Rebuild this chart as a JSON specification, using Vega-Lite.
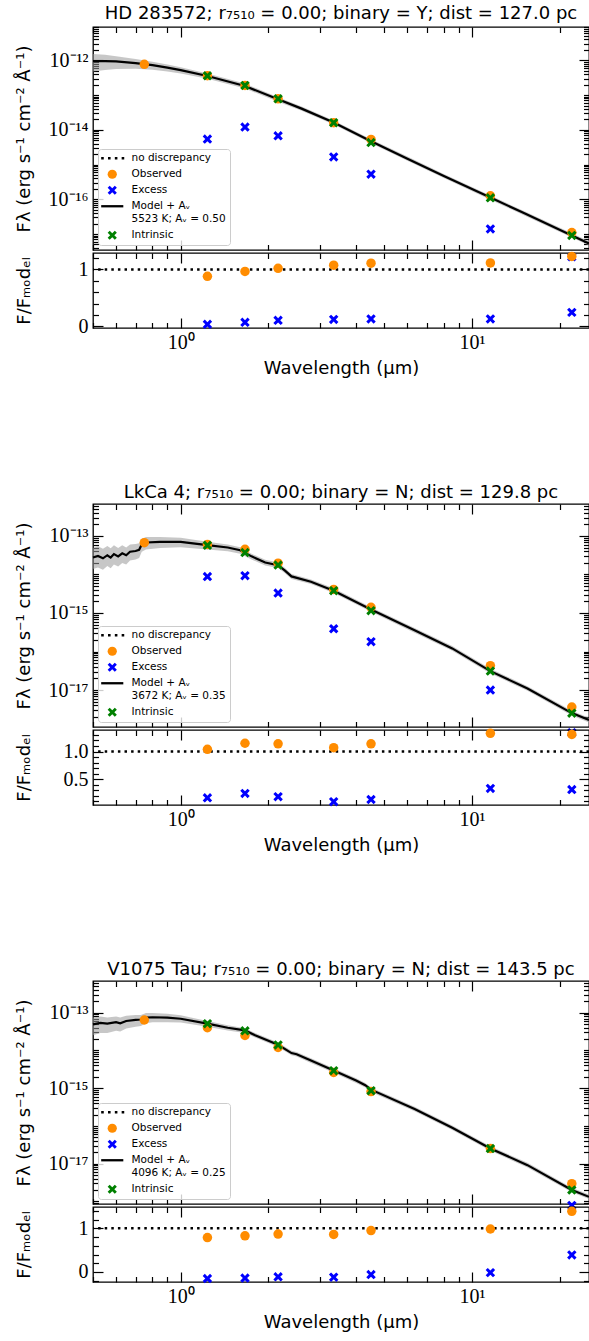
{
"$schema": "https://vega.github.io/schema/vega-lite/v6.json",
"padding": {"left": 14, "top": 4, "right": 0, "bottom": 0},
"config": {
 "view": {"stroke": "black", "strokeWidth": 1.3},
 "font": "DejaVu Sans",
 "axis": {"grid": false, "domain": false, "tickColor": "black", "tickWidth": 1.2, "labelColor": "black", "labelFont": "Liberation Serif", "labelFontSize": 20, "labelOverlap": false, "labelFlush": false, "labelBound": false, "titleColor": "black", "titleFont": "DejaVu Sans", "titleFontSize": 18, "titleFontWeight": "normal"},
 "title": {"font": "DejaVu Sans", "fontSize": 18, "fontWeight": "normal", "color": "black", "offset": -6, "anchor": "middle"},
 "legend": {"orient": "bottom-left", "offset": 5, "padding": 4, "strokeColor": "#cccccc", "fillColor": "rgba(255,255,255,0.8)", "cornerRadius": 3, "labelFont": "DejaVu Sans", "labelFontSize": 10.5, "labelColor": "black", "symbolSize": 85, "symbolOffset": 5, "labelOffset": 14, "rowPadding": 5, "symbolStrokeWidth": 0, "labelLimit": 300}
},
"datasets": {
 "phot": [
  {"star":"HD 283572","wl":0.75,"type":"Observed","flux":7.7e-13,"ratio":null},
  {"star":"HD 283572","wl":1.235,"type":"Observed","flux":3.6e-13,"ratio":0.88},
  {"star":"HD 283572","wl":1.662,"type":"Observed","flux":1.9e-13,"ratio":0.965},
  {"star":"HD 283572","wl":2.159,"type":"Observed","flux":7.8e-14,"ratio":1.02},
  {"star":"HD 283572","wl":3.35,"type":"Observed","flux":1.6e-14,"ratio":1.075},
  {"star":"HD 283572","wl":4.5,"type":"Observed","flux":5.3e-15,"ratio":1.11},
  {"star":"HD 283572","wl":11.56,"type":"Observed","flux":1.26e-16,"ratio":1.115},
  {"star":"HD 283572","wl":22.0,"type":"Observed","flux":1.1e-17,"ratio":1.23},
  {"star":"HD 283572","wl":1.235,"type":"Excess","flux":5.4e-15,"ratio":0.035},
  {"star":"HD 283572","wl":1.662,"type":"Excess","flux":1.2e-14,"ratio":0.07},
  {"star":"HD 283572","wl":2.159,"type":"Excess","flux":6.7e-15,"ratio":0.105},
  {"star":"HD 283572","wl":3.35,"type":"Excess","flux":1.66e-15,"ratio":0.12},
  {"star":"HD 283572","wl":4.5,"type":"Excess","flux":5.3e-16,"ratio":0.13},
  {"star":"HD 283572","wl":11.56,"type":"Excess","flux":1.4e-17,"ratio":0.13},
  {"star":"HD 283572","wl":22.0,"type":"Excess","flux":2.2e-18,"ratio":0.245},
  {"star":"HD 283572","wl":1.235,"type":"Intrinsic","flux":3.6e-13,"ratio":null},
  {"star":"HD 283572","wl":1.662,"type":"Intrinsic","flux":1.9e-13,"ratio":null},
  {"star":"HD 283572","wl":2.159,"type":"Intrinsic","flux":7.8e-14,"ratio":null},
  {"star":"HD 283572","wl":3.35,"type":"Intrinsic","flux":1.6e-14,"ratio":null},
  {"star":"HD 283572","wl":4.5,"type":"Intrinsic","flux":4.3e-15,"ratio":null},
  {"star":"HD 283572","wl":11.56,"type":"Intrinsic","flux":1.1e-16,"ratio":null},
  {"star":"HD 283572","wl":22.0,"type":"Intrinsic","flux":9.1e-18,"ratio":null},
  {"star":"LkCa 4","wl":0.75,"type":"Observed","flux":6.7e-14,"ratio":null},
  {"star":"LkCa 4","wl":1.235,"type":"Observed","flux":6.0e-14,"ratio":1.04},
  {"star":"LkCa 4","wl":1.662,"type":"Observed","flux":4.5e-14,"ratio":1.15},
  {"star":"LkCa 4","wl":2.159,"type":"Observed","flux":1.96e-14,"ratio":1.14},
  {"star":"LkCa 4","wl":3.35,"type":"Observed","flux":4.1e-15,"ratio":1.07},
  {"star":"LkCa 4","wl":4.5,"type":"Observed","flux":1.4e-15,"ratio":1.14},
  {"star":"LkCa 4","wl":11.56,"type":"Observed","flux":4.3e-17,"ratio":1.33},
  {"star":"LkCa 4","wl":22.0,"type":"Observed","flux":3.6e-18,"ratio":1.31},
  {"star":"LkCa 4","wl":1.235,"type":"Excess","flux":8.8e-15,"ratio":0.16},
  {"star":"LkCa 4","wl":1.662,"type":"Excess","flux":9.3e-15,"ratio":0.24},
  {"star":"LkCa 4","wl":2.159,"type":"Excess","flux":3.3e-15,"ratio":0.18},
  {"star":"LkCa 4","wl":3.35,"type":"Excess","flux":3.9e-16,"ratio":0.09},
  {"star":"LkCa 4","wl":4.5,"type":"Excess","flux":1.8e-16,"ratio":0.13},
  {"star":"LkCa 4","wl":11.56,"type":"Excess","flux":1.0e-17,"ratio":0.33},
  {"star":"LkCa 4","wl":22.0,"type":"Excess","flux":7.8e-19,"ratio":0.31},
  {"star":"LkCa 4","wl":1.235,"type":"Intrinsic","flux":5.7e-14,"ratio":null},
  {"star":"LkCa 4","wl":1.662,"type":"Intrinsic","flux":3.7e-14,"ratio":null},
  {"star":"LkCa 4","wl":2.159,"type":"Intrinsic","flux":1.75e-14,"ratio":null},
  {"star":"LkCa 4","wl":3.35,"type":"Intrinsic","flux":3.8e-15,"ratio":null},
  {"star":"LkCa 4","wl":4.5,"type":"Intrinsic","flux":1.15e-15,"ratio":null},
  {"star":"LkCa 4","wl":11.56,"type":"Intrinsic","flux":3.1e-17,"ratio":null},
  {"star":"LkCa 4","wl":22.0,"type":"Intrinsic","flux":2.5e-18,"ratio":null},
  {"star":"V1075 Tau","wl":0.75,"type":"Observed","flux":6.4e-14,"ratio":null},
  {"star":"V1075 Tau","wl":1.235,"type":"Observed","flux":4.0e-14,"ratio":0.79},
  {"star":"V1075 Tau","wl":1.662,"type":"Observed","flux":2.5e-14,"ratio":0.83},
  {"star":"V1075 Tau","wl":2.159,"type":"Observed","flux":1.2e-14,"ratio":0.87},
  {"star":"V1075 Tau","wl":3.35,"type":"Observed","flux":2.6e-15,"ratio":0.86},
  {"star":"V1075 Tau","wl":4.5,"type":"Observed","flux":8.1e-16,"ratio":0.95},
  {"star":"V1075 Tau","wl":11.56,"type":"Observed","flux":2.5e-17,"ratio":0.985},
  {"star":"V1075 Tau","wl":22.0,"type":"Observed","flux":2.95e-18,"ratio":1.39},
  {"star":"V1075 Tau","wl":1.235,"type":"Excess","flux":null,"ratio":-0.15},
  {"star":"V1075 Tau","wl":1.662,"type":"Excess","flux":null,"ratio":-0.14},
  {"star":"V1075 Tau","wl":2.159,"type":"Excess","flux":null,"ratio":-0.11},
  {"star":"V1075 Tau","wl":3.35,"type":"Excess","flux":null,"ratio":-0.12},
  {"star":"V1075 Tau","wl":4.5,"type":"Excess","flux":null,"ratio":-0.06},
  {"star":"V1075 Tau","wl":11.56,"type":"Excess","flux":null,"ratio":-0.015},
  {"star":"V1075 Tau","wl":22.0,"type":"Excess","flux":7.8e-19,"ratio":0.39},
  {"star":"V1075 Tau","wl":1.235,"type":"Intrinsic","flux":5.1e-14,"ratio":null},
  {"star":"V1075 Tau","wl":1.662,"type":"Intrinsic","flux":3.3e-14,"ratio":null},
  {"star":"V1075 Tau","wl":2.159,"type":"Intrinsic","flux":1.4e-14,"ratio":null},
  {"star":"V1075 Tau","wl":3.35,"type":"Intrinsic","flux":2.9e-15,"ratio":null},
  {"star":"V1075 Tau","wl":4.5,"type":"Intrinsic","flux":8.6e-16,"ratio":null},
  {"star":"V1075 Tau","wl":11.56,"type":"Intrinsic","flux":2.5e-17,"ratio":null},
  {"star":"V1075 Tau","wl":22.0,"type":"Intrinsic","flux":2.0e-18,"ratio":null}
 ],
 "model": [
  {"star":"HD 283572","wl":0.5,"f":9.55e-13,"lo":4.786e-13,"hi":1.514e-12},
  {"star":"HD 283572","wl":0.55,"f":9.55e-13,"lo":5.248e-13,"hi":1.445e-12},
  {"star":"HD 283572","wl":0.6,"f":9.333e-13,"lo":5.623e-13,"hi":1.318e-12},
  {"star":"HD 283572","wl":0.7,"f":8.318e-13,"lo":5.754e-13,"hi":1.096e-12},
  {"star":"HD 283572","wl":0.8,"f":7.244e-13,"lo":5.37e-13,"hi":9.12e-13},
  {"star":"HD 283572","wl":0.9,"f":6.166e-13,"lo":4.786e-13,"hi":7.586e-13},
  {"star":"HD 283572","wl":1.0,"f":5.248e-13,"lo":4.169e-13,"hi":6.31e-13},
  {"star":"HD 283572","wl":1.235,"f":3.548e-13,"lo":2.951e-13,"hi":4.169e-13},
  {"star":"HD 283572","wl":1.662,"f":1.82e-13,"lo":1.549e-13,"hi":2.138e-13},
  {"star":"HD 283572","wl":2.159,"f":7.586e-14,"lo":6.457e-14,"hi":8.71e-14},
  {"star":"HD 283572","wl":2.6,"f":4.074e-14,"lo":3.548e-14,"hi":4.677e-14},
  {"star":"HD 283572","wl":3.35,"f":1.622e-14,"lo":1.413e-14,"hi":1.862e-14},
  {"star":"HD 283572","wl":4.5,"f":4.677e-15,"lo":4.074e-15,"hi":5.37e-15},
  {"star":"HD 283572","wl":6.0,"f":1.479e-15,"lo":1.288e-15,"hi":1.698e-15},
  {"star":"HD 283572","wl":8.0,"f":4.677e-16,"lo":4.074e-16,"hi":5.37e-16},
  {"star":"HD 283572","wl":11.56,"f":1.122e-16,"lo":9.772e-17,"hi":1.288e-16},
  {"star":"HD 283572","wl":15.0,"f":4.074e-17,"lo":3.548e-17,"hi":4.677e-17},
  {"star":"HD 283572","wl":22.0,"f":9.12e-18,"lo":7.943e-18,"hi":1.047e-17},
  {"star":"HD 283572","wl":25.2,"f":5.37e-18,"lo":4.677e-18,"hi":6.166e-18},
  {"star":"LkCa 4","wl":0.5,"f":2.754e-14,"lo":1.38e-14,"hi":4.898e-14},
  {"star":"LkCa 4","wl":0.52,"f":3.02e-14,"lo":1.514e-14,"hi":5.37e-14},
  {"star":"LkCa 4","wl":0.541,"f":2.63e-14,"lo":1.318e-14,"hi":4.677e-14},
  {"star":"LkCa 4","wl":0.56,"f":3.162e-14,"lo":1.66e-14,"hi":5.495e-14},
  {"star":"LkCa 4","wl":0.575,"f":2.754e-14,"lo":1.445e-14,"hi":4.786e-14},
  {"star":"LkCa 4","wl":0.59,"f":3.388e-14,"lo":1.82e-14,"hi":5.754e-14},
  {"star":"LkCa 4","wl":0.61,"f":2.951e-14,"lo":1.622e-14,"hi":4.898e-14},
  {"star":"LkCa 4","wl":0.63,"f":3.548e-14,"lo":1.995e-14,"hi":5.754e-14},
  {"star":"LkCa 4","wl":0.65,"f":3.162e-14,"lo":1.82e-14,"hi":5.012e-14},
  {"star":"LkCa 4","wl":0.67,"f":3.89e-14,"lo":2.291e-14,"hi":6.026e-14},
  {"star":"LkCa 4","wl":0.7,"f":4.074e-14,"lo":2.455e-14,"hi":6.166e-14},
  {"star":"LkCa 4","wl":0.72,"f":4.365e-14,"lo":2.692e-14,"hi":6.457e-14},
  {"star":"LkCa 4","wl":0.735,"f":6.026e-14,"lo":3.89e-14,"hi":8.511e-14},
  {"star":"LkCa 4","wl":0.76,"f":6.761e-14,"lo":4.467e-14,"hi":9.333e-14},
  {"star":"LkCa 4","wl":0.85,"f":6.998e-14,"lo":4.84e-14,"hi":9.44e-14},
  {"star":"LkCa 4","wl":1.0,"f":6.998e-14,"lo":5.07e-14,"hi":9.016e-14},
  {"star":"LkCa 4","wl":1.235,"f":5.754e-14,"lo":4.467e-14,"hi":7.079e-14},
  {"star":"LkCa 4","wl":1.45,"f":5.012e-14,"lo":3.981e-14,"hi":6.026e-14},
  {"star":"LkCa 4","wl":1.6,"f":4.266e-14,"lo":3.467e-14,"hi":5.129e-14},
  {"star":"LkCa 4","wl":1.75,"f":2.951e-14,"lo":2.455e-14,"hi":3.467e-14},
  {"star":"LkCa 4","wl":1.95,"f":2.042e-14,"lo":1.698e-14,"hi":2.399e-14},
  {"star":"LkCa 4","wl":2.159,"f":1.738e-14,"lo":1.479e-14,"hi":2.042e-14},
  {"star":"LkCa 4","wl":2.28,"f":1.259e-14,"lo":1.072e-14,"hi":1.479e-14},
  {"star":"LkCa 4","wl":2.4,"f":8.913e-15,"lo":7.586e-15,"hi":1.023e-14},
  {"star":"LkCa 4","wl":2.8,"f":6.457e-15,"lo":5.623e-15,"hi":7.413e-15},
  {"star":"LkCa 4","wl":3.35,"f":3.802e-15,"lo":3.311e-15,"hi":4.365e-15},
  {"star":"LkCa 4","wl":4.5,"f":1.23e-15,"lo":1.072e-15,"hi":1.413e-15},
  {"star":"LkCa 4","wl":6.35,"f":3.548e-16,"lo":3.09e-16,"hi":4.074e-16},
  {"star":"LkCa 4","wl":8.55,"f":1.202e-16,"lo":1.047e-16,"hi":1.38e-16},
  {"star":"LkCa 4","wl":11.56,"f":3.09e-17,"lo":2.692e-17,"hi":3.548e-17},
  {"star":"LkCa 4","wl":15.5,"f":1.096e-17,"lo":9.55e-18,"hi":1.259e-17},
  {"star":"LkCa 4","wl":22.0,"f":2.512e-18,"lo":2.188e-18,"hi":2.884e-18},
  {"star":"LkCa 4","wl":25.2,"f":1.66e-18,"lo":1.445e-18,"hi":1.905e-18},
  {"star":"V1075 Tau","wl":0.5,"f":4.898e-14,"lo":2.512e-14,"hi":7.413e-14},
  {"star":"V1075 Tau","wl":0.53,"f":5.37e-14,"lo":2.884e-14,"hi":7.943e-14},
  {"star":"V1075 Tau","wl":0.56,"f":5.129e-14,"lo":2.884e-14,"hi":7.413e-14},
  {"star":"V1075 Tau","wl":0.6,"f":5.623e-14,"lo":3.311e-14,"hi":7.943e-14},
  {"star":"V1075 Tau","wl":0.62,"f":5.248e-14,"lo":3.162e-14,"hi":7.413e-14},
  {"star":"V1075 Tau","wl":0.65,"f":6.026e-14,"lo":3.802e-14,"hi":8.318e-14},
  {"star":"V1075 Tau","wl":0.7,"f":6.457e-14,"lo":4.266e-14,"hi":8.71e-14},
  {"star":"V1075 Tau","wl":0.73,"f":6.607e-14,"lo":4.467e-14,"hi":8.71e-14},
  {"star":"V1075 Tau","wl":0.76,"f":7.413e-14,"lo":5.248e-14,"hi":9.772e-14},
  {"star":"V1075 Tau","wl":0.8,"f":7.586e-14,"lo":5.623e-14,"hi":9.772e-14},
  {"star":"V1075 Tau","wl":0.9,"f":7.413e-14,"lo":5.623e-14,"hi":9.333e-14},
  {"star":"V1075 Tau","wl":1.0,"f":6.918e-14,"lo":5.495e-14,"hi":8.511e-14},
  {"star":"V1075 Tau","wl":1.235,"f":5.129e-14,"lo":4.266e-14,"hi":6.026e-14},
  {"star":"V1075 Tau","wl":1.45,"f":3.981e-14,"lo":3.388e-14,"hi":4.677e-14},
  {"star":"V1075 Tau","wl":1.662,"f":3.388e-14,"lo":2.884e-14,"hi":3.89e-14},
  {"star":"V1075 Tau","wl":1.8,"f":2.512e-14,"lo":2.188e-14,"hi":2.884e-14},
  {"star":"V1075 Tau","wl":2.159,"f":1.413e-14,"lo":1.23e-14,"hi":1.622e-14},
  {"star":"V1075 Tau","wl":2.4,"f":8.511e-15,"lo":7.413e-15,"hi":9.772e-15},
  {"star":"V1075 Tau","wl":2.5,"f":7.943e-15,"lo":6.918e-15,"hi":9.12e-15},
  {"star":"V1075 Tau","wl":2.8,"f":5.37e-15,"lo":4.677e-15,"hi":6.166e-15},
  {"star":"V1075 Tau","wl":3.35,"f":2.951e-15,"lo":2.57e-15,"hi":3.388e-15},
  {"star":"V1075 Tau","wl":4.0,"f":1.585e-15,"lo":1.38e-15,"hi":1.82e-15},
  {"star":"V1075 Tau","wl":4.3,"f":1.202e-15,"lo":1.047e-15,"hi":1.38e-15},
  {"star":"V1075 Tau","wl":4.5,"f":9.12e-16,"lo":7.943e-16,"hi":1.047e-15},
  {"star":"V1075 Tau","wl":6.35,"f":2.818e-16,"lo":2.455e-16,"hi":3.236e-16},
  {"star":"V1075 Tau","wl":8.55,"f":8.913e-17,"lo":7.762e-17,"hi":1.023e-16},
  {"star":"V1075 Tau","wl":11.56,"f":2.512e-17,"lo":2.188e-17,"hi":2.884e-17},
  {"star":"V1075 Tau","wl":15.5,"f":9.12e-18,"lo":7.943e-18,"hi":1.047e-17},
  {"star":"V1075 Tau","wl":22.0,"f":1.995e-18,"lo":1.738e-18,"hi":2.291e-18},
  {"star":"V1075 Tau","wl":25.2,"f":1.318e-18,"lo":1.148e-18,"hi":1.514e-18}
 ]
},
"spacing": 104,
"resolve": {"scale": {"x": "independent", "y": "independent", "color": "independent", "shape": "independent"}},
"vconcat": [
 {"spacing": 3, "bounds": "flush",
  "resolve": {"scale": {"x": "independent", "y": "independent", "color": "independent", "shape": "independent"}},
  "vconcat": [
   {"title": {"text": "HD 283572; r₇₅₁₀ = 0.00; binary = Y; dist = 127.0 pc"},
    "width": 496, "height": 223,
    "resolve": {"axis": {"x": "independent", "y": "independent"}},
    "layer": [
     {"data": {"name": "model"}, "transform": [{"filter": "datum.star == 'HD 283572'"}],
      "mark": {"type": "area", "color": "#999999", "opacity": 0.55},
      "encoding": {
       "x": {"field": "wl", "type": "quantitative", "scale": {"type": "log", "domain": [0.5, 25.2], "nice": false},
             "axis": {"orient": "bottom", "values": [0.5,0.6,0.7,0.8,0.9,1,2,3,4,5,6,7,8,9,10,20], "labels": false, "title": null, "tickSize": {"condition": {"test": "datum.value == 1 || datum.value == 10", "value": -10}, "value": -5.5}}},
       "y": {"field": "lo", "type": "quantitative", "scale": {"type": "log", "domain": [3.47e-18, 9.12e-12], "nice": false},
             "axis": {"orient": "left", "values": [4e-18,5e-18,6e-18,7e-18,8e-18,9e-18,1e-17,2e-17,3e-17,4e-17,5e-17,6e-17,7e-17,8e-17,9e-17,1e-16,2e-16,3e-16,4e-16,5e-16,6e-16,7e-16,8e-16,9e-16,1e-15,2e-15,3e-15,4e-15,5e-15,6e-15,7e-15,8e-15,9e-15,1e-14,2e-14,3e-14,4e-14,5e-14,6e-14,7e-14,8e-14,9e-14,1e-13,2e-13,3e-13,4e-13,5e-13,6e-13,7e-13,8e-13,9e-13,1e-12,2e-12,3e-12,4e-12,5e-12,6e-12,7e-12,8e-12,9e-12],
                      "tickSize": {"condition": {"test": "datum.value == 1e-12 || datum.value == 1e-14 || datum.value == 1e-16", "value": -10}, "value": -5.5},
                      "labelExpr": "datum.value == 1e-12 ? '10⁻¹²' : datum.value == 1e-14 ? '10⁻¹⁴' : datum.value == 1e-16 ? '10⁻¹⁶' : ''",
                      "labelPadding": 15, "title": "Fλ (erg s⁻¹ cm⁻² Å⁻¹)", "titleX": -69, "titleBaseline": "middle"}},
       "y2": {"field": "hi"}}},
     {"data": {"name": "model"}, "transform": [{"filter": "datum.star == 'HD 283572'"}],
      "mark": {"type": "line", "color": "black", "strokeWidth": 2.2},
      "encoding": {
       "x": {"field": "wl", "type": "quantitative", "scale": {"type": "log", "domain": [0.5, 25.2], "nice": false},
             "axis": {"orient": "top", "values": [0.5,0.6,0.7,0.8,0.9,1,2,3,4,5,6,7,8,9,10,20], "labels": false, "title": null, "tickSize": {"condition": {"test": "datum.value == 1 || datum.value == 10", "value": -10}, "value": -5.5}}},
       "y": {"field": "f", "type": "quantitative", "scale": {"type": "log", "domain": [3.47e-18, 9.12e-12], "nice": false},
             "axis": {"orient": "right", "values": [4e-18,5e-18,6e-18,7e-18,8e-18,9e-18,1e-17,2e-17,3e-17,4e-17,5e-17,6e-17,7e-17,8e-17,9e-17,1e-16,2e-16,3e-16,4e-16,5e-16,6e-16,7e-16,8e-16,9e-16,1e-15,2e-15,3e-15,4e-15,5e-15,6e-15,7e-15,8e-15,9e-15,1e-14,2e-14,3e-14,4e-14,5e-14,6e-14,7e-14,8e-14,9e-14,1e-13,2e-13,3e-13,4e-13,5e-13,6e-13,7e-13,8e-13,9e-13,1e-12,2e-12,3e-12,4e-12,5e-12,6e-12,7e-12,8e-12,9e-12],
                      "tickSize": {"condition": {"test": "datum.value == 1e-12 || datum.value == 1e-14 || datum.value == 1e-16", "value": -10}, "value": -5.5},
                      "labels": false, "title": null}}}},
     {"data": {"name": "phot"}, "transform": [{"filter": "datum.star == 'HD 283572' && datum.type == 'Observed'"}],
      "mark": {"type": "point", "filled": true, "size": 90, "opacity": 1},
      "encoding": {
       "x": {"field": "wl", "type": "quantitative", "scale": {"type": "log", "domain": [0.5, 25.2], "nice": false}, "axis": null},
       "y": {"field": "flux", "type": "quantitative", "scale": {"type": "log", "domain": [3.47e-18, 9.12e-12], "nice": false}, "axis": null},
       "color": {"field": "type", "type": "nominal", "scale": {"domain": ["no discrepancy","Observed","Excess","Model","Intrinsic"], "range": ["black","#ff8c00","#0000ff","black","#008000"]},
                 "legend": {"title": null, "labelExpr": "datum.value == 'Model' ? ['Model + Aᵥ', '5523 K; Aᵥ = 0.50'] : datum.value"}},
       "shape": {"field": "type", "type": "nominal", "scale": {"domain": ["no discrepancy","Observed","Excess","Model","Intrinsic"], "range": ["M-2.4,-0.28H-1.84V0.28H-2.4ZM-0.92,-0.28H-0.36V0.28H-0.92ZM0.56,-0.28H1.12V0.28H0.56ZM2.04,-0.28H2.6V0.28H2.04Z","circle","M-1,-0.55L-0.45,0L-1,0.55L-0.55,1L0,0.45L0.55,1L1,0.55L0.45,0L1,-0.55L0.55,-1L0,-0.45L-0.55,-1Z","M-2.4,-0.25H2.4V0.25H-2.4Z","M-1,-0.55L-0.45,0L-1,0.55L-0.55,1L0,0.45L0.55,1L1,0.55L0.45,0L1,-0.55L0.55,-1L0,-0.45L-0.55,-1Z"]},
                 "legend": {"title": null, "labelExpr": "datum.value == 'Model' ? ['Model + Aᵥ', '5523 K; Aᵥ = 0.50'] : datum.value"}}}},
     {"data": {"name": "phot"}, "transform": [{"filter": "datum.star == 'HD 283572' && datum.type != 'Observed' && isValid(datum.flux)"}],
      "mark": {"type": "point", "filled": true, "size": 90, "opacity": 1},
      "encoding": {
       "x": {"field": "wl", "type": "quantitative", "scale": {"type": "log", "domain": [0.5, 25.2], "nice": false}, "axis": null},
       "y": {"field": "flux", "type": "quantitative", "scale": {"type": "log", "domain": [3.47e-18, 9.12e-12], "nice": false}, "axis": null},
       "color": {"field": "type", "type": "nominal", "scale": {"domain": ["no discrepancy","Observed","Excess","Model","Intrinsic"], "range": ["black","#ff8c00","#0000ff","black","#008000"]},
                 "legend": {"title": null, "labelExpr": "datum.value == 'Model' ? ['Model + Aᵥ', '5523 K; Aᵥ = 0.50'] : datum.value"}},
       "shape": {"field": "type", "type": "nominal", "scale": {"domain": ["no discrepancy","Observed","Excess","Model","Intrinsic"], "range": ["M-2.4,-0.28H-1.84V0.28H-2.4ZM-0.92,-0.28H-0.36V0.28H-0.92ZM0.56,-0.28H1.12V0.28H0.56ZM2.04,-0.28H2.6V0.28H2.04Z","circle","M-1,-0.55L-0.45,0L-1,0.55L-0.55,1L0,0.45L0.55,1L1,0.55L0.45,0L1,-0.55L0.55,-1L0,-0.45L-0.55,-1Z","M-2.4,-0.25H2.4V0.25H-2.4Z","M-1,-0.55L-0.45,0L-1,0.55L-0.55,1L0,0.45L0.55,1L1,0.55L0.45,0L1,-0.55L0.55,-1L0,-0.45L-0.55,-1Z"]},
                 "legend": {"title": null, "labelExpr": "datum.value == 'Model' ? ['Model + Aᵥ', '5523 K; Aᵥ = 0.50'] : datum.value"}}}}
    ]},
   {"width": 496, "height": 75,
    "resolve": {"axis": {"x": "independent", "y": "independent"}},
    "layer": [
     {"data": {"values": [{}]},
      "mark": {"type": "rule", "color": "black", "strokeWidth": 2.5, "strokeDash": [2.5, 4.1]},
      "encoding": {"y": {"datum": 1, "type": "quantitative", "scale": {"domain": [-0.03, 1.29], "nice": false, "zero": false},
             "axis": {"orient": "left", "values": [0,0.2,0.4,0.6,0.8,1,1.2], "tickSize": {"condition": {"test": "datum.value == 0 || datum.value == 1", "value": -10}, "value": -5.5},
                      "labelExpr": "datum.value == 0 ? '0' : datum.value == 1 ? '1' : ''", "labelPadding": 15, "title": "F/Fₘₒdₑₗ", "titleX": -69, "titleBaseline": "middle"}}}},
     {"data": {"name": "phot"}, "transform": [{"filter": "datum.star == 'HD 283572' && datum.type == 'Observed' && isValid(datum.ratio)"}],
      "mark": {"type": "point", "filled": true, "shape": "circle", "size": 90, "color": "#ff8c00", "opacity": 1},
      "encoding": {
       "x": {"field": "wl", "type": "quantitative", "scale": {"type": "log", "domain": [0.5, 25.2], "nice": false},
             "axis": {"orient": "bottom", "values": [0.5,0.6,0.7,0.8,0.9,1,2,3,4,5,6,7,8,9,10,20], "tickSize": {"condition": {"test": "datum.value == 1 || datum.value == 10", "value": -10}, "value": -5.5},
                      "labelExpr": "datum.value == 1 ? '10⁰' : datum.value == 10 ? '10¹' : ''", "labelPadding": 14, "title": "Wavelength (μm)", "titlePadding": 3}},
       "y": {"field": "ratio", "type": "quantitative", "scale": {"domain": [-0.03, 1.29], "nice": false, "zero": false},
             "axis": {"orient": "right", "values": [0,0.2,0.4,0.6,0.8,1,1.2], "tickSize": {"condition": {"test": "datum.value == 0 || datum.value == 1", "value": -10}, "value": -5.5}, "labels": false, "title": null}}}},
     {"data": {"name": "phot"}, "transform": [{"filter": "datum.star == 'HD 283572' && datum.type == 'Excess' && isValid(datum.ratio)"}],
      "mark": {"type": "point", "filled": true, "shape": "M-1,-0.55L-0.45,0L-1,0.55L-0.55,1L0,0.45L0.55,1L1,0.55L0.45,0L1,-0.55L0.55,-1L0,-0.45L-0.55,-1Z", "size": 90, "color": "#0000ff", "opacity": 1},
      "encoding": {
       "x": {"field": "wl", "type": "quantitative", "scale": {"type": "log", "domain": [0.5, 25.2], "nice": false},
             "axis": {"orient": "top", "values": [0.5,0.6,0.7,0.8,0.9,1,2,3,4,5,6,7,8,9,10,20], "labels": false, "title": null, "tickSize": {"condition": {"test": "datum.value == 1 || datum.value == 10", "value": -10}, "value": -5.5}}},
       "y": {"field": "ratio", "type": "quantitative", "scale": {"domain": [-0.03, 1.29], "nice": false, "zero": false}, "axis": null}}}
    ]}
  ]},
 {"spacing": 3, "bounds": "flush",
  "resolve": {"scale": {"x": "independent", "y": "independent", "color": "independent", "shape": "independent"}},
  "vconcat": [
   {"title": {"text": "LkCa 4; r₇₅₁₀ = 0.00; binary = N; dist = 129.8 pc"},
    "width": 496, "height": 223,
    "resolve": {"axis": {"x": "independent", "y": "independent"}},
    "layer": [
     {"data": {"name": "model"}, "transform": [{"filter": "datum.star == 'LkCa 4'"}],
      "mark": {"type": "area", "color": "#999999", "opacity": 0.55},
      "encoding": {
       "x": {"field": "wl", "type": "quantitative", "scale": {"type": "log", "domain": [0.5, 25.2], "nice": false},
             "axis": {"orient": "bottom", "values": [0.5,0.6,0.7,0.8,0.9,1,2,3,4,5,6,7,8,9,10,20], "labels": false, "title": null, "tickSize": {"condition": {"test": "datum.value == 1 || datum.value == 10", "value": -10}, "value": -5.5}}},
       "y": {"field": "lo", "type": "quantitative", "scale": {"type": "log", "domain": [1.096e-18, 6.76e-13], "nice": false},
             "axis": {"orient": "left", "values": [2e-18,3e-18,4e-18,5e-18,6e-18,7e-18,8e-18,9e-18,1e-17,2e-17,3e-17,4e-17,5e-17,6e-17,7e-17,8e-17,9e-17,1e-16,2e-16,3e-16,4e-16,5e-16,6e-16,7e-16,8e-16,9e-16,1e-15,2e-15,3e-15,4e-15,5e-15,6e-15,7e-15,8e-15,9e-15,1e-14,2e-14,3e-14,4e-14,5e-14,6e-14,7e-14,8e-14,9e-14,1e-13,2e-13,3e-13,4e-13,5e-13,6e-13],
                      "tickSize": {"condition": {"test": "datum.value == 1e-13 || datum.value == 1e-15 || datum.value == 1e-17", "value": -10}, "value": -5.5},
                      "labelExpr": "datum.value == 1e-13 ? '10⁻¹³' : datum.value == 1e-15 ? '10⁻¹⁵' : datum.value == 1e-17 ? '10⁻¹⁷' : ''",
                      "labelPadding": 15, "title": "Fλ (erg s⁻¹ cm⁻² Å⁻¹)", "titleX": -69, "titleBaseline": "middle"}},
       "y2": {"field": "hi"}}},
     {"data": {"name": "model"}, "transform": [{"filter": "datum.star == 'LkCa 4'"}],
      "mark": {"type": "line", "color": "black", "strokeWidth": 2.2},
      "encoding": {
       "x": {"field": "wl", "type": "quantitative", "scale": {"type": "log", "domain": [0.5, 25.2], "nice": false},
             "axis": {"orient": "top", "values": [0.5,0.6,0.7,0.8,0.9,1,2,3,4,5,6,7,8,9,10,20], "labels": false, "title": null, "tickSize": {"condition": {"test": "datum.value == 1 || datum.value == 10", "value": -10}, "value": -5.5}}},
       "y": {"field": "f", "type": "quantitative", "scale": {"type": "log", "domain": [1.096e-18, 6.76e-13], "nice": false},
             "axis": {"orient": "right", "values": [2e-18,3e-18,4e-18,5e-18,6e-18,7e-18,8e-18,9e-18,1e-17,2e-17,3e-17,4e-17,5e-17,6e-17,7e-17,8e-17,9e-17,1e-16,2e-16,3e-16,4e-16,5e-16,6e-16,7e-16,8e-16,9e-16,1e-15,2e-15,3e-15,4e-15,5e-15,6e-15,7e-15,8e-15,9e-15,1e-14,2e-14,3e-14,4e-14,5e-14,6e-14,7e-14,8e-14,9e-14,1e-13,2e-13,3e-13,4e-13,5e-13,6e-13],
                      "tickSize": {"condition": {"test": "datum.value == 1e-13 || datum.value == 1e-15 || datum.value == 1e-17", "value": -10}, "value": -5.5},
                      "labels": false, "title": null}}}},
     {"data": {"name": "phot"}, "transform": [{"filter": "datum.star == 'LkCa 4' && datum.type == 'Observed'"}],
      "mark": {"type": "point", "filled": true, "size": 90, "opacity": 1},
      "encoding": {
       "x": {"field": "wl", "type": "quantitative", "scale": {"type": "log", "domain": [0.5, 25.2], "nice": false}, "axis": null},
       "y": {"field": "flux", "type": "quantitative", "scale": {"type": "log", "domain": [1.096e-18, 6.76e-13], "nice": false}, "axis": null},
       "color": {"field": "type", "type": "nominal", "scale": {"domain": ["no discrepancy","Observed","Excess","Model","Intrinsic"], "range": ["black","#ff8c00","#0000ff","black","#008000"]},
                 "legend": {"title": null, "labelExpr": "datum.value == 'Model' ? ['Model + Aᵥ', '3672 K; Aᵥ = 0.35'] : datum.value"}},
       "shape": {"field": "type", "type": "nominal", "scale": {"domain": ["no discrepancy","Observed","Excess","Model","Intrinsic"], "range": ["M-2.4,-0.28H-1.84V0.28H-2.4ZM-0.92,-0.28H-0.36V0.28H-0.92ZM0.56,-0.28H1.12V0.28H0.56ZM2.04,-0.28H2.6V0.28H2.04Z","circle","M-1,-0.55L-0.45,0L-1,0.55L-0.55,1L0,0.45L0.55,1L1,0.55L0.45,0L1,-0.55L0.55,-1L0,-0.45L-0.55,-1Z","M-2.4,-0.25H2.4V0.25H-2.4Z","M-1,-0.55L-0.45,0L-1,0.55L-0.55,1L0,0.45L0.55,1L1,0.55L0.45,0L1,-0.55L0.55,-1L0,-0.45L-0.55,-1Z"]},
                 "legend": {"title": null, "labelExpr": "datum.value == 'Model' ? ['Model + Aᵥ', '3672 K; Aᵥ = 0.35'] : datum.value"}}}},
     {"data": {"name": "phot"}, "transform": [{"filter": "datum.star == 'LkCa 4' && datum.type != 'Observed' && isValid(datum.flux)"}],
      "mark": {"type": "point", "filled": true, "size": 90, "opacity": 1},
      "encoding": {
       "x": {"field": "wl", "type": "quantitative", "scale": {"type": "log", "domain": [0.5, 25.2], "nice": false}, "axis": null},
       "y": {"field": "flux", "type": "quantitative", "scale": {"type": "log", "domain": [1.096e-18, 6.76e-13], "nice": false}, "axis": null},
       "color": {"field": "type", "type": "nominal", "scale": {"domain": ["no discrepancy","Observed","Excess","Model","Intrinsic"], "range": ["black","#ff8c00","#0000ff","black","#008000"]},
                 "legend": {"title": null, "labelExpr": "datum.value == 'Model' ? ['Model + Aᵥ', '3672 K; Aᵥ = 0.35'] : datum.value"}},
       "shape": {"field": "type", "type": "nominal", "scale": {"domain": ["no discrepancy","Observed","Excess","Model","Intrinsic"], "range": ["M-2.4,-0.28H-1.84V0.28H-2.4ZM-0.92,-0.28H-0.36V0.28H-0.92ZM0.56,-0.28H1.12V0.28H0.56ZM2.04,-0.28H2.6V0.28H2.04Z","circle","M-1,-0.55L-0.45,0L-1,0.55L-0.55,1L0,0.45L0.55,1L1,0.55L0.45,0L1,-0.55L0.55,-1L0,-0.45L-0.55,-1Z","M-2.4,-0.25H2.4V0.25H-2.4Z","M-1,-0.55L-0.45,0L-1,0.55L-0.55,1L0,0.45L0.55,1L1,0.55L0.45,0L1,-0.55L0.55,-1L0,-0.45L-0.55,-1Z"]},
                 "legend": {"title": null, "labelExpr": "datum.value == 'Model' ? ['Model + Aᵥ', '3672 K; Aᵥ = 0.35'] : datum.value"}}}}
    ]},
   {"width": 496, "height": 75,
    "resolve": {"axis": {"x": "independent", "y": "independent"}},
    "layer": [
     {"data": {"values": [{}]},
      "mark": {"type": "rule", "color": "black", "strokeWidth": 2.5, "strokeDash": [2.5, 4.1]},
      "encoding": {"y": {"datum": 1, "type": "quantitative", "scale": {"domain": [0.03, 1.39], "nice": false, "zero": false},
             "axis": {"orient": "left", "values": [0.1,0.2,0.3,0.4,0.5,0.6,0.7,0.8,0.9,1,1.1,1.2,1.3], "tickSize": {"condition": {"test": "datum.value == 0.5 || datum.value == 1", "value": -10}, "value": -5.5},
                      "labelExpr": "datum.value == 0.5 ? '0.5' : datum.value == 1 ? '1.0' : ''", "labelPadding": 15, "title": "F/Fₘₒdₑₗ", "titleX": -69, "titleBaseline": "middle"}}}},
     {"data": {"name": "phot"}, "transform": [{"filter": "datum.star == 'LkCa 4' && datum.type == 'Observed' && isValid(datum.ratio)"}],
      "mark": {"type": "point", "filled": true, "shape": "circle", "size": 90, "color": "#ff8c00", "opacity": 1},
      "encoding": {
       "x": {"field": "wl", "type": "quantitative", "scale": {"type": "log", "domain": [0.5, 25.2], "nice": false},
             "axis": {"orient": "bottom", "values": [0.5,0.6,0.7,0.8,0.9,1,2,3,4,5,6,7,8,9,10,20], "tickSize": {"condition": {"test": "datum.value == 1 || datum.value == 10", "value": -10}, "value": -5.5},
                      "labelExpr": "datum.value == 1 ? '10⁰' : datum.value == 10 ? '10¹' : ''", "labelPadding": 14, "title": "Wavelength (μm)", "titlePadding": 3}},
       "y": {"field": "ratio", "type": "quantitative", "scale": {"domain": [0.03, 1.39], "nice": false, "zero": false},
             "axis": {"orient": "right", "values": [0.1,0.2,0.3,0.4,0.5,0.6,0.7,0.8,0.9,1,1.1,1.2,1.3], "tickSize": {"condition": {"test": "datum.value == 0.5 || datum.value == 1", "value": -10}, "value": -5.5}, "labels": false, "title": null}}}},
     {"data": {"name": "phot"}, "transform": [{"filter": "datum.star == 'LkCa 4' && datum.type == 'Excess' && isValid(datum.ratio)"}],
      "mark": {"type": "point", "filled": true, "shape": "M-1,-0.55L-0.45,0L-1,0.55L-0.55,1L0,0.45L0.55,1L1,0.55L0.45,0L1,-0.55L0.55,-1L0,-0.45L-0.55,-1Z", "size": 90, "color": "#0000ff", "opacity": 1},
      "encoding": {
       "x": {"field": "wl", "type": "quantitative", "scale": {"type": "log", "domain": [0.5, 25.2], "nice": false},
             "axis": {"orient": "top", "values": [0.5,0.6,0.7,0.8,0.9,1,2,3,4,5,6,7,8,9,10,20], "labels": false, "title": null, "tickSize": {"condition": {"test": "datum.value == 1 || datum.value == 10", "value": -10}, "value": -5.5}}},
       "y": {"field": "ratio", "type": "quantitative", "scale": {"domain": [0.03, 1.39], "nice": false, "zero": false}, "axis": null}}}
    ]}
  ]},
 {"spacing": 3, "bounds": "flush",
  "resolve": {"scale": {"x": "independent", "y": "independent", "color": "independent", "shape": "independent"}},
  "vconcat": [
   {"title": {"text": "V1075 Tau; r₇₅₁₀ = 0.00; binary = N; dist = 143.5 pc"},
    "width": 496, "height": 223,
    "resolve": {"axis": {"x": "independent", "y": "independent"}},
    "layer": [
     {"data": {"name": "model"}, "transform": [{"filter": "datum.star == 'V1075 Tau'"}],
      "mark": {"type": "area", "color": "#999999", "opacity": 0.55},
      "encoding": {
       "x": {"field": "wl", "type": "quantitative", "scale": {"type": "log", "domain": [0.5, 25.2], "nice": false},
             "axis": {"orient": "bottom", "values": [0.5,0.6,0.7,0.8,0.9,1,2,3,4,5,6,7,8,9,10,20], "labels": false, "title": null, "tickSize": {"condition": {"test": "datum.value == 1 || datum.value == 10", "value": -10}, "value": -5.5}}},
       "y": {"field": "lo", "type": "quantitative", "scale": {"type": "log", "domain": [8.51e-19, 6.92e-13], "nice": false},
             "axis": {"orient": "left", "values": [9e-19,1e-18,2e-18,3e-18,4e-18,5e-18,6e-18,7e-18,8e-18,9e-18,1e-17,2e-17,3e-17,4e-17,5e-17,6e-17,7e-17,8e-17,9e-17,1e-16,2e-16,3e-16,4e-16,5e-16,6e-16,7e-16,8e-16,9e-16,1e-15,2e-15,3e-15,4e-15,5e-15,6e-15,7e-15,8e-15,9e-15,1e-14,2e-14,3e-14,4e-14,5e-14,6e-14,7e-14,8e-14,9e-14,1e-13,2e-13,3e-13,4e-13,5e-13,6e-13],
                      "tickSize": {"condition": {"test": "datum.value == 1e-13 || datum.value == 1e-15 || datum.value == 1e-17", "value": -10}, "value": -5.5},
                      "labelExpr": "datum.value == 1e-13 ? '10⁻¹³' : datum.value == 1e-15 ? '10⁻¹⁵' : datum.value == 1e-17 ? '10⁻¹⁷' : ''",
                      "labelPadding": 15, "title": "Fλ (erg s⁻¹ cm⁻² Å⁻¹)", "titleX": -69, "titleBaseline": "middle"}},
       "y2": {"field": "hi"}}},
     {"data": {"name": "model"}, "transform": [{"filter": "datum.star == 'V1075 Tau'"}],
      "mark": {"type": "line", "color": "black", "strokeWidth": 2.2},
      "encoding": {
       "x": {"field": "wl", "type": "quantitative", "scale": {"type": "log", "domain": [0.5, 25.2], "nice": false},
             "axis": {"orient": "top", "values": [0.5,0.6,0.7,0.8,0.9,1,2,3,4,5,6,7,8,9,10,20], "labels": false, "title": null, "tickSize": {"condition": {"test": "datum.value == 1 || datum.value == 10", "value": -10}, "value": -5.5}}},
       "y": {"field": "f", "type": "quantitative", "scale": {"type": "log", "domain": [8.51e-19, 6.92e-13], "nice": false},
             "axis": {"orient": "right", "values": [9e-19,1e-18,2e-18,3e-18,4e-18,5e-18,6e-18,7e-18,8e-18,9e-18,1e-17,2e-17,3e-17,4e-17,5e-17,6e-17,7e-17,8e-17,9e-17,1e-16,2e-16,3e-16,4e-16,5e-16,6e-16,7e-16,8e-16,9e-16,1e-15,2e-15,3e-15,4e-15,5e-15,6e-15,7e-15,8e-15,9e-15,1e-14,2e-14,3e-14,4e-14,5e-14,6e-14,7e-14,8e-14,9e-14,1e-13,2e-13,3e-13,4e-13,5e-13,6e-13],
                      "tickSize": {"condition": {"test": "datum.value == 1e-13 || datum.value == 1e-15 || datum.value == 1e-17", "value": -10}, "value": -5.5},
                      "labels": false, "title": null}}}},
     {"data": {"name": "phot"}, "transform": [{"filter": "datum.star == 'V1075 Tau' && datum.type == 'Observed'"}],
      "mark": {"type": "point", "filled": true, "size": 90, "opacity": 1},
      "encoding": {
       "x": {"field": "wl", "type": "quantitative", "scale": {"type": "log", "domain": [0.5, 25.2], "nice": false}, "axis": null},
       "y": {"field": "flux", "type": "quantitative", "scale": {"type": "log", "domain": [8.51e-19, 6.92e-13], "nice": false}, "axis": null},
       "color": {"field": "type", "type": "nominal", "scale": {"domain": ["no discrepancy","Observed","Excess","Model","Intrinsic"], "range": ["black","#ff8c00","#0000ff","black","#008000"]},
                 "legend": {"title": null, "labelExpr": "datum.value == 'Model' ? ['Model + Aᵥ', '4096 K; Aᵥ = 0.25'] : datum.value"}},
       "shape": {"field": "type", "type": "nominal", "scale": {"domain": ["no discrepancy","Observed","Excess","Model","Intrinsic"], "range": ["M-2.4,-0.28H-1.84V0.28H-2.4ZM-0.92,-0.28H-0.36V0.28H-0.92ZM0.56,-0.28H1.12V0.28H0.56ZM2.04,-0.28H2.6V0.28H2.04Z","circle","M-1,-0.55L-0.45,0L-1,0.55L-0.55,1L0,0.45L0.55,1L1,0.55L0.45,0L1,-0.55L0.55,-1L0,-0.45L-0.55,-1Z","M-2.4,-0.25H2.4V0.25H-2.4Z","M-1,-0.55L-0.45,0L-1,0.55L-0.55,1L0,0.45L0.55,1L1,0.55L0.45,0L1,-0.55L0.55,-1L0,-0.45L-0.55,-1Z"]},
                 "legend": {"title": null, "labelExpr": "datum.value == 'Model' ? ['Model + Aᵥ', '4096 K; Aᵥ = 0.25'] : datum.value"}}}},
     {"data": {"name": "phot"}, "transform": [{"filter": "datum.star == 'V1075 Tau' && datum.type != 'Observed' && isValid(datum.flux)"}],
      "mark": {"type": "point", "filled": true, "size": 90, "opacity": 1},
      "encoding": {
       "x": {"field": "wl", "type": "quantitative", "scale": {"type": "log", "domain": [0.5, 25.2], "nice": false}, "axis": null},
       "y": {"field": "flux", "type": "quantitative", "scale": {"type": "log", "domain": [8.51e-19, 6.92e-13], "nice": false}, "axis": null},
       "color": {"field": "type", "type": "nominal", "scale": {"domain": ["no discrepancy","Observed","Excess","Model","Intrinsic"], "range": ["black","#ff8c00","#0000ff","black","#008000"]},
                 "legend": {"title": null, "labelExpr": "datum.value == 'Model' ? ['Model + Aᵥ', '4096 K; Aᵥ = 0.25'] : datum.value"}},
       "shape": {"field": "type", "type": "nominal", "scale": {"domain": ["no discrepancy","Observed","Excess","Model","Intrinsic"], "range": ["M-2.4,-0.28H-1.84V0.28H-2.4ZM-0.92,-0.28H-0.36V0.28H-0.92ZM0.56,-0.28H1.12V0.28H0.56ZM2.04,-0.28H2.6V0.28H2.04Z","circle","M-1,-0.55L-0.45,0L-1,0.55L-0.55,1L0,0.45L0.55,1L1,0.55L0.45,0L1,-0.55L0.55,-1L0,-0.45L-0.55,-1Z","M-2.4,-0.25H2.4V0.25H-2.4Z","M-1,-0.55L-0.45,0L-1,0.55L-0.55,1L0,0.45L0.55,1L1,0.55L0.45,0L1,-0.55L0.55,-1L0,-0.45L-0.55,-1Z"]},
                 "legend": {"title": null, "labelExpr": "datum.value == 'Model' ? ['Model + Aᵥ', '4096 K; Aᵥ = 0.25'] : datum.value"}}}}
    ]},
   {"width": 496, "height": 75,
    "resolve": {"axis": {"x": "independent", "y": "independent"}},
    "layer": [
     {"data": {"values": [{}]},
      "mark": {"type": "rule", "color": "black", "strokeWidth": 2.5, "strokeDash": [2.5, 4.1]},
      "encoding": {"y": {"datum": 1, "type": "quantitative", "scale": {"domain": [-0.23, 1.49], "nice": false, "zero": false},
             "axis": {"orient": "left", "values": [-0.2,0,0.2,0.4,0.6,0.8,1,1.2,1.4], "tickSize": {"condition": {"test": "datum.value == 0 || datum.value == 1", "value": -10}, "value": -5.5},
                      "labelExpr": "datum.value == 0 ? '0' : datum.value == 1 ? '1' : ''", "labelPadding": 15, "title": "F/Fₘₒdₑₗ", "titleX": -69, "titleBaseline": "middle"}}}},
     {"data": {"name": "phot"}, "transform": [{"filter": "datum.star == 'V1075 Tau' && datum.type == 'Observed' && isValid(datum.ratio)"}],
      "mark": {"type": "point", "filled": true, "shape": "circle", "size": 90, "color": "#ff8c00", "opacity": 1},
      "encoding": {
       "x": {"field": "wl", "type": "quantitative", "scale": {"type": "log", "domain": [0.5, 25.2], "nice": false},
             "axis": {"orient": "bottom", "values": [0.5,0.6,0.7,0.8,0.9,1,2,3,4,5,6,7,8,9,10,20], "tickSize": {"condition": {"test": "datum.value == 1 || datum.value == 10", "value": -10}, "value": -5.5},
                      "labelExpr": "datum.value == 1 ? '10⁰' : datum.value == 10 ? '10¹' : ''", "labelPadding": 14, "title": "Wavelength (μm)", "titlePadding": 3}},
       "y": {"field": "ratio", "type": "quantitative", "scale": {"domain": [-0.23, 1.49], "nice": false, "zero": false},
             "axis": {"orient": "right", "values": [-0.2,0,0.2,0.4,0.6,0.8,1,1.2,1.4], "tickSize": {"condition": {"test": "datum.value == 0 || datum.value == 1", "value": -10}, "value": -5.5}, "labels": false, "title": null}}}},
     {"data": {"name": "phot"}, "transform": [{"filter": "datum.star == 'V1075 Tau' && datum.type == 'Excess' && isValid(datum.ratio)"}],
      "mark": {"type": "point", "filled": true, "shape": "M-1,-0.55L-0.45,0L-1,0.55L-0.55,1L0,0.45L0.55,1L1,0.55L0.45,0L1,-0.55L0.55,-1L0,-0.45L-0.55,-1Z", "size": 90, "color": "#0000ff", "opacity": 1},
      "encoding": {
       "x": {"field": "wl", "type": "quantitative", "scale": {"type": "log", "domain": [0.5, 25.2], "nice": false},
             "axis": {"orient": "top", "values": [0.5,0.6,0.7,0.8,0.9,1,2,3,4,5,6,7,8,9,10,20], "labels": false, "title": null, "tickSize": {"condition": {"test": "datum.value == 1 || datum.value == 10", "value": -10}, "value": -5.5}}},
       "y": {"field": "ratio", "type": "quantitative", "scale": {"domain": [-0.23, 1.49], "nice": false, "zero": false}, "axis": null}}}
    ]}
  ]}
]
}
